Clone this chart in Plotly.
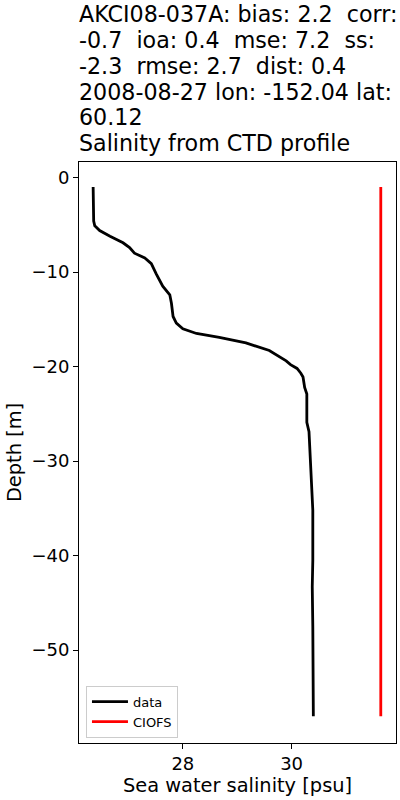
import plotly.graph_objects as go

# Observed CTD profile (data)
data_depth = [-1.0, -2.0, -3.0, -4.0, -4.6, -5.1, -5.6, -6.2, -6.9, -7.4, -8.0, -8.5,
              -9.1, -10.2, -11.5, -12.4, -13.3, -14.7, -15.4, -16.0, -16.5, -16.9,
              -17.5, -18.3, -18.9, -19.4, -19.8, -20.2, -20.7, -21.1, -22.2, -22.9,
              -24.3, -25.9, -26.9, -29.2, -32.0, -35.2, -40.5, -43.3, -47.5, -52.8, -57.0]
data_sal = [26.35, 26.35, 26.35, 26.35, 26.36, 26.38, 26.47, 26.66, 26.90, 27.02, 27.11, 27.30,
            27.42, 27.51, 27.63, 27.76, 27.79, 27.82, 27.88, 28.00, 28.25, 28.67,
            29.16, 29.59, 29.77, 29.90, 29.98, 30.10, 30.17, 30.21, 30.24, 30.28,
            30.28, 30.28, 30.32, 30.34, 30.37, 30.39, 30.39, 30.38, 30.39, 30.40, 30.40]

# Model profile (CIOFS)
model_depth = [-1.0, -10.0, -20.0, -30.0, -40.0, -50.0, -57.0]
model_sal = [31.64, 31.64, 31.64, 31.64, 31.64, 31.64, 31.64]

title_lines = [
    "AKCI08-037A: bias: 2.2  corr:",
    "-0.7  ioa: 0.4  mse: 7.2  ss:",
    "-2.3  rmse: 2.7  dist: 0.4",
    "2008-08-27 lon: -152.04 lat:",
    "60.12",
    "Salinity from CTD profile",
]

x_ticks = [28, 30]
y_ticks = [0, -10, -20, -30, -40, -50]

FONT = "DejaVu Sans"
W, H = 400, 800
L, R, T, B = 79, 4, 162, 57
plot_h = H - T - B

fig = go.Figure()
fig.add_trace(go.Scatter(x=data_sal, y=data_depth, mode="lines", name="data",
                         line=dict(color="black", width=2.8)))
fig.add_trace(go.Scatter(x=model_sal, y=model_depth, mode="lines", name="CIOFS",
                         line=dict(color="red", width=2.8)))

annotations = []
title_size = 22.2
for i, txt in enumerate(title_lines):
    baseline = 22 + 25.8 * i
    bottom_px = baseline + 0.236 * title_size + 1
    annotations.append(dict(
        text=txt, xref="paper", yref="paper", x=0, y=(H - B - bottom_px) / plot_h,
        xanchor="left", yanchor="bottom", showarrow=False, borderpad=0,
        xshift=-1, font=dict(family=FONT, size=title_size, color="black")))

fig.update_layout(
    width=W, height=H,
    margin=dict(l=L, r=R, t=T, b=B, autoexpand=False),
    paper_bgcolor="white", plot_bgcolor="white",
    font=dict(family=FONT, color="black"),
    showlegend=True,
    legend=dict(x=0.022, y=0.009, xanchor="left", yanchor="bottom",
                bgcolor="white", bordercolor="#cccccc", borderwidth=1,
                font=dict(family=FONT, size=13, color="black"),
                itemwidth=36, tracegroupgap=0),
    annotations=annotations,
)
fig.update_xaxes(range=[26.09, 31.92], tickvals=x_ticks, ticks="outside", ticklen=5,
                 tickcolor="black", showline=True, linecolor="black", linewidth=1,
                 mirror=True, showgrid=False, zeroline=False, automargin=False,
                 ticklabelstandoff=-1,
                 tickfont=dict(family=FONT, size=18, color="black"),
                 title=dict(text="Sea water salinity [psu]", standoff=4,
                            font=dict(family=FONT, size=19.4, color="black")))
fig.update_yaxes(range=[-59.84, 1.65], tickvals=y_ticks, ticks="outside", ticklen=5,
                 tickcolor="black", showline=True, linecolor="black", linewidth=1,
                 mirror=True, showgrid=False, zeroline=False, automargin=False,
                 tickfont=dict(family=FONT, size=18, color="black"),
                 title=dict(text="Depth [m]", standoff=4,
                            font=dict(family=FONT, size=19.4, color="black")))

fig.write_html("out.html", config={"displayModeBar": False},
               post_script="document.body.style.margin='0';document.body.style.overflow='hidden';")
